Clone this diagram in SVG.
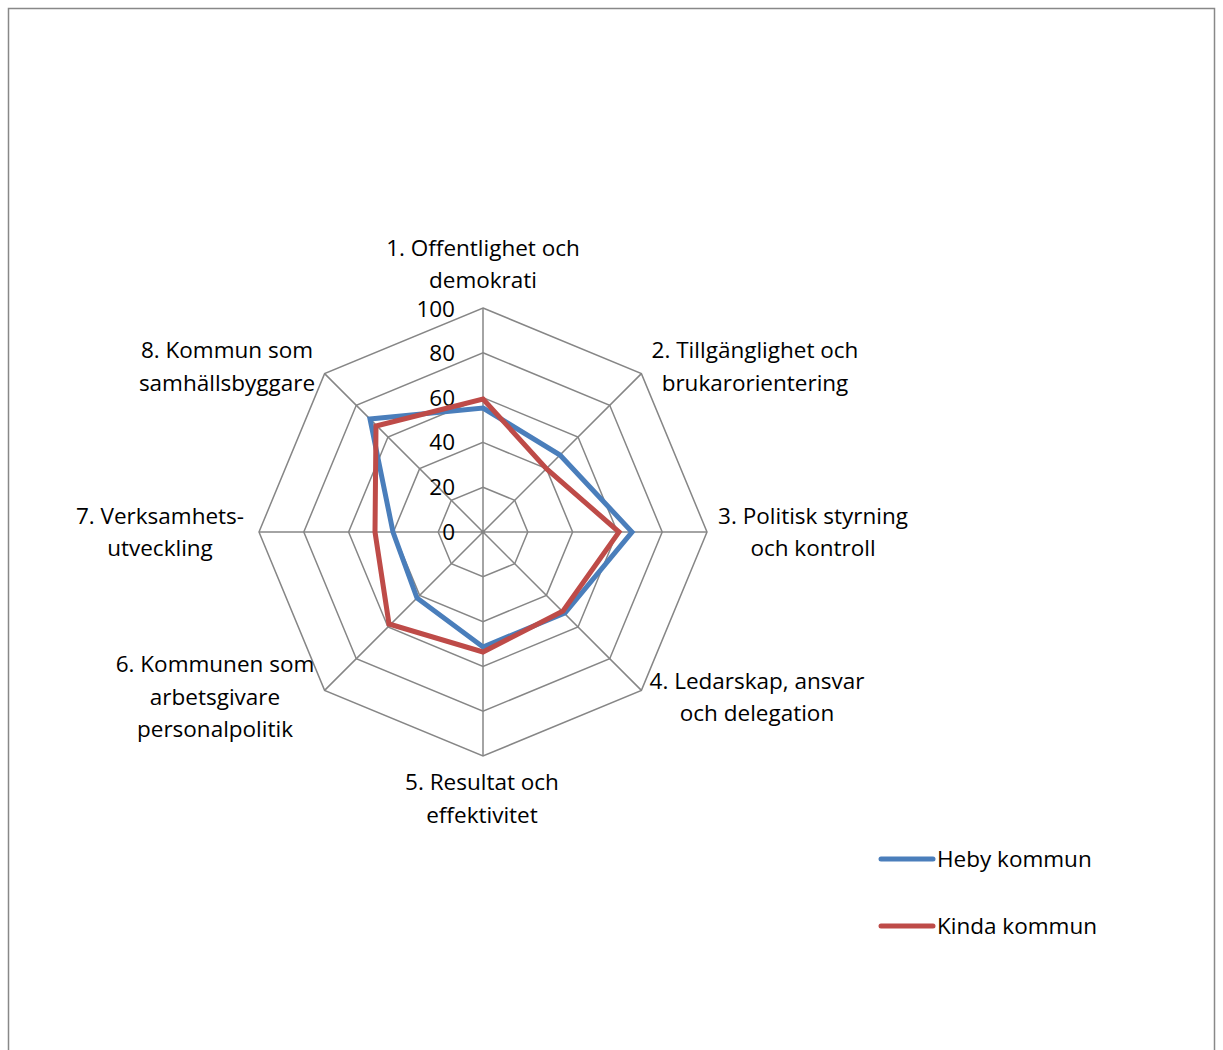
<svg xmlns="http://www.w3.org/2000/svg" width="1223" height="1050" viewBox="0 0 1223 1050">
<style>
.grid{fill:none;stroke:#868686;stroke-width:1.5}
.lbl{font-family:"Open Sans","Liberation Sans",sans-serif;font-size:22.5px;fill:#000}
.mid{text-anchor:middle}
.end{text-anchor:end}
.s{fill:none;stroke-width:5;stroke-linejoin:miter}
</style>
<rect x="8.5" y="8.5" width="1206" height="1060" fill="#fff" stroke="#888" stroke-width="1.5"/>
<g id="grid">
<polygon class="grid" points="483,487.2 514.68,500.32 527.8,532 514.68,563.68 483,576.8 451.32,563.68 438.2,532 451.32,500.32"/>
<polygon class="grid" points="483,442.4 546.36,468.64 572.6,532 546.36,595.36 483,621.6 419.64,595.36 393.4,532 419.64,468.64"/>
<polygon class="grid" points="483,397.6 578.03,436.97 617.4,532 578.03,627.03 483,666.4 387.97,627.03 348.6,532 387.97,436.97"/>
<polygon class="grid" points="483,352.8 609.71,405.29 662.2,532 609.71,658.71 483,711.2 356.29,658.71 303.8,532 356.29,405.29"/>
<polygon class="grid" points="483,308 641.4,373.6 707,532 641.4,690.4 483,756 324.6,690.4 259,532 324.6,373.6"/>
<path class="grid" d="M483,532V308M483,532L641.4,373.6M483,532H707M483,532L641.4,690.4M483,532V756M483,532L324.6,690.4M483,532H259M483,532L324.6,373.6"/>
</g>
<g id="ticks" class="lbl end">
<text x="455" y="317">100</text>
<text x="455" y="361">80</text>
<text x="455" y="406">60</text>
<text x="455" y="450">40</text>
<text x="455" y="495">20</text>
<text x="455" y="540">0</text>
</g>
<g id="series">
<polygon class="s" stroke="#4a7ebb" points="483,408 560,455 632,532 565,613 483,647 417,598 393,532 370,419"/>
<polygon class="s" stroke="#be4b48" points="483,399 546.4,468.6 619,532 563,611 483,652 389,624 375,532 376,426"/>
</g>
<g id="axis-labels" class="lbl mid">
<text x="483" y="256">1. Offentlighet och</text>
<text x="483" y="288">demokrati</text>
<text x="755" y="358">2. Tillgänglighet och</text>
<text x="755" y="391">brukarorientering</text>
<text x="813" y="524">3. Politisk styrning</text>
<text x="813" y="556">och kontroll</text>
<text x="757" y="689">4. Ledarskap, ansvar</text>
<text x="757" y="721">och delegation</text>
<text x="482" y="790">5. Resultat och</text>
<text x="482" y="823">effektivitet</text>
<text x="215" y="672">6. Kommunen som</text>
<text x="215" y="705">arbetsgivare</text>
<text x="215" y="737">personalpolitik</text>
<text x="160" y="524">7. Verksamhets-</text>
<text x="160" y="556">utveckling</text>
<text x="227" y="358">8. Kommun som</text>
<text x="227" y="391">samhällsbyggare</text>
</g>
<g id="legend">
<line x1="881" y1="859" x2="933" y2="859" stroke="#4a7ebb" stroke-width="5" stroke-linecap="round"/>
<text class="lbl" x="937" y="867">Heby kommun</text>
<line x1="881" y1="926" x2="933" y2="926" stroke="#be4b48" stroke-width="5" stroke-linecap="round"/>
<text class="lbl" x="937" y="934">Kinda kommun</text>
</g>
</svg>
